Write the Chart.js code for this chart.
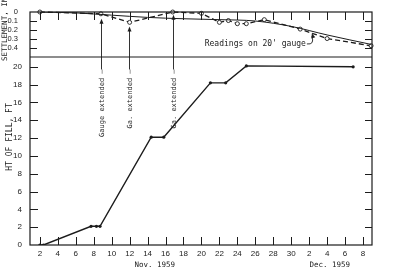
<!DOCTYPE html>
<html>
<head>
<meta charset="utf-8">
<script src="https://cdn.jsdelivr.net/npm/chart.js@4/dist/chart.umd.min.js"></script>
<style>
html, body { margin: 0; padding: 0; background: #fff; }
</style>
</head>
<body>
<canvas id="chart" width="394" height="270"></canvas>
<script>
// days are counted in November; December dates run on from 30 (Dec 2 = 32)
const dayTicks = [2, 4, 6, 8, 10, 12, 14, 16, 18, 20, 22, 24, 26, 28, 30, 32, 34, 36, 38];
const dayLabels = ['2', '4', '6', '8', '10', '12', '14', '16', '18', '20', '22', '24', '26', '28', '30', '2', '4', '6', '8'];
const monthLabels = ['Nov. 1959', 'Dec. 1959'];
const monthDays = [14.8, 34.3];

const settleTicks = [0, 0.1, 0.2, 0.3, 0.4];
const settleLabels = ['0', '0.1', '0.2', '0.3', '0.4'];
const fillTicks = [0, 2, 4, 6, 8, 10, 12, 14, 16, 18, 20];

// height of fill, ft
const fillDays = [2, 2.4, 7.7, 8.3, 8.7, 14.4, 15.8, 21, 22.7, 25, 36.9];
const fillFeet = [0, 0, 2.1, 2.1, 2.1, 12.1, 12.1, 18.2, 18.2, 20.1, 20.0];

// readings on 20' gauge, in.
const gaugeDays = [2, 8.8, 12, 16.8, 20, 22, 23, 24, 25, 27, 31, 34, 38.9];
const gaugeSettle = [0, 0.02, 0.115, 0, 0.015, 0.115, 0.095, 0.13, 0.13, 0.085, 0.19, 0.295, 0.375];

// smoothed settlement curve, in.
const curveDays = [2, 6, 10, 14, 18, 22, 26, 30, 34, 38.9];
const curveSettle = [0, 0.01, 0.035, 0.06, 0.075, 0.085, 0.1, 0.16, 0.255, 0.36];

// gauge extension notes
const extDays = [8.8, 11.9, 16.8];
const extNotes = ['Gauge extended \u2014', 'Ga. extended \u2014', 'Ga. extended \u2014'];
const extTips = [0.075, 0.16, 0.03];
const extBase = 19.7;

const tickFont = "'Liberation Sans', Arial, sans-serif";
const monoFont = "'DejaVu Sans Mono', 'Liberation Mono', monospace";
const ink = '#1c1c1c';

function pts(xs, ys) {
	return xs.map((x, i) => ({x: x, y: ys[i]}));
}

function line(ctx, x1, y1, x2, y2) {
	ctx.beginPath();
	ctx.moveTo(x1, y1);
	ctx.lineTo(x2, y2);
	ctx.stroke();
}

function arrowHead(ctx, x, y, ang) {
	ctx.save();
	ctx.translate(x, y);
	ctx.rotate(ang);
	ctx.beginPath();
	ctx.moveTo(0, 0);
	ctx.lineTo(-5, -2);
	ctx.lineTo(-5, 2);
	ctx.closePath();
	ctx.fill();
	ctx.restore();
}

function noPad(s) {
	s.paddingTop = 0;
	s.paddingBottom = 0;
	s.paddingLeft = 0;
	s.paddingRight = 0;
}

const frame = {
	id: 'frame',
	afterDraw(chart) {
		const ctx = chart.ctx;
		const a = chart.chartArea;
		const x = chart.scales.x, ys = chart.scales.ySet, yf = chart.scales.yFill;
		ctx.save();
		ctx.strokeStyle = ink;
		ctx.fillStyle = ink;
		ctx.lineWidth = 1.2;
		ctx.strokeRect(a.left, a.top, a.right - a.left, a.bottom - a.top);
		line(ctx, a.left, ys.bottom, a.right, ys.bottom);

		ctx.lineWidth = 1;
		dayTicks.forEach(d => {
			let px = Math.round(x.getPixelForValue(d)) + 0.5;
			line(ctx, px, a.bottom, px, a.bottom - 8);
			line(ctx, px, a.top, px, a.top + 8);
		});
		settleTicks.slice(1).forEach(v => {
			let py = Math.round(ys.getPixelForValue(v)) + 0.5;
			line(ctx, a.left, py, a.left + 7, py);
			line(ctx, a.right, py, a.right - 7, py);
		});
		fillTicks.slice(1).forEach(v => {
			let py = Math.round(yf.getPixelForValue(v)) + 0.5;
			line(ctx, a.left, py, a.left + 8, py);
			line(ctx, a.right, py, a.right - 7, py);
		});

		// gauge extension arrows and notes
		ctx.lineWidth = 0.9;
		extDays.forEach((d, i) => {
			let px = Math.round(x.getPixelForValue(d)) + 0.5;
			let yb = yf.getPixelForValue(extBase);
			let yt = ys.getPixelForValue(extTips[i]);
			line(ctx, px, yb, px, yt + 3);
			arrowHead(ctx, px, yt, -Math.PI / 2);
			ctx.save();
			ctx.translate(px + 1, yb);
			ctx.rotate(-Math.PI / 2);
			ctx.font = '7px ' + monoFont;
			ctx.textAlign = 'right';
			ctx.textBaseline = 'middle';
			ctx.fillText(extNotes[i], 0, 0);
			ctx.restore();
		});

		// readings label with curved leader
		ctx.font = '8px ' + monoFont;
		ctx.textAlign = 'center';
		ctx.textBaseline = 'middle';
		let lx = x.getPixelForValue(26), ly = ys.getPixelForValue(0.355);
		let label = "Readings on 20' gauge";
		ctx.fillText(label, lx, ly);
		let sx = lx + ctx.measureText(label).width / 2 + 1;
		let ex = x.getPixelForValue(32.3), ey = ys.getPixelForValue(0.235);
		ctx.beginPath();
		ctx.moveTo(sx, ly);
		ctx.quadraticCurveTo(ex + 3, ly + 1, ex, ey + 3);
		ctx.stroke();
		arrowHead(ctx, ex, ey, -Math.PI / 2 - 0.3);

		// month captions
		ctx.font = '7.5px ' + monoFont;
		monthLabels.forEach((m, i) => {
			ctx.fillText(m, x.getPixelForValue(monthDays[i]), 265);
		});

		// axis titles
		ctx.save();
		ctx.translate(5, 61);
		ctx.rotate(-Math.PI / 2);
		ctx.font = '7.5px ' + monoFont;
		ctx.textAlign = 'left';
		ctx.fillText('SETTLEMENT, IN.', 0, 0);
		ctx.restore();
		ctx.save();
		ctx.translate(10, 137);
		ctx.rotate(-Math.PI / 2);
		ctx.font = '8px ' + monoFont;
		ctx.textAlign = 'center';
		ctx.fillText('HT OF FILL, FT', 0, 0);
		ctx.restore();
		ctx.restore();
	}
};

const ctx = document.getElementById('chart').getContext('2d');
new Chart(ctx, {
	type: 'line',
	data: {
		datasets: [
			{
				label: 'Height of fill',
				data: pts(fillDays, fillFeet),
				yAxisID: 'yFill',
				borderColor: ink,
				borderWidth: 1.4,
				pointRadius: 1.6,
				pointBackgroundColor: ink,
				pointBorderWidth: 0,
				tension: 0,
			},
			{
				label: 'Settlement curve',
				data: pts(curveDays, curveSettle),
				yAxisID: 'ySet',
				borderColor: ink,
				borderWidth: 1,
				pointRadius: 0,
				cubicInterpolationMode: 'monotone',
			},
			{
				label: "Readings on 20' gauge",
				data: pts(gaugeDays, gaugeSettle),
				yAxisID: 'ySet',
				borderColor: ink,
				borderWidth: 1.3,
				borderDash: [5, 3],
				pointRadius: 2,
				pointBackgroundColor: '#fff',
				pointBorderColor: ink,
				pointBorderWidth: 0.9,
				tension: 0,
				clip: 4,
			},
		],
	},
	options: {
		responsive: false,
		animation: false,
		layout: { padding: { top: 12, right: 22, left: 0, bottom: 0 } },
		plugins: { legend: { display: false }, tooltip: { enabled: false } },
		scales: {
			x: {
				type: 'linear',
				min: 0.9,
				max: 39,
				grid: { display: false, drawTicks: false },
				border: { display: false },
				afterBuildTicks: s => { s.ticks = dayTicks.map(v => ({value: v})); },
				afterFit: s => { s.height = 25; noPad(s); },
				ticks: {
					padding: 4,
					maxRotation: 0,
					autoSkip: false,
					color: '#222',
					font: { family: tickFont, size: 8 },
					callback: (v, i) => dayLabels[i],
				},
			},
			yFill: {
				type: 'linear',
				position: 'left',
				stack: 'panels',
				stackWeight: 188,
				min: 0,
				max: 21.1,
				grid: { display: false, drawTicks: false },
				border: { display: false },
				afterBuildTicks: s => { s.ticks = fillTicks.map(v => ({value: v})); },
				afterFit: s => { s.width = 30; noPad(s); },
				ticks: {
					padding: 8,
					autoSkip: false,
					color: '#222',
					font: { family: tickFont, size: 8 },
				},
			},
			ySet: {
				type: 'linear',
				position: 'left',
				stack: 'panels',
				stackWeight: 45,
				reverse: true,
				min: 0,
				max: 0.5,
				grid: { display: false, drawTicks: false },
				border: { display: false },
				afterBuildTicks: s => { s.ticks = settleTicks.map(v => ({value: v})); },
				afterFit: s => { s.width = 30; noPad(s); },
				ticks: {
					padding: 12,
					autoSkip: false,
					color: '#222',
					font: { family: tickFont, size: 7.5 },
					callback: (v, i) => settleLabels[i],
				},
			},
		},
	},
	plugins: [frame],
});
</script>
</body>
</html>
